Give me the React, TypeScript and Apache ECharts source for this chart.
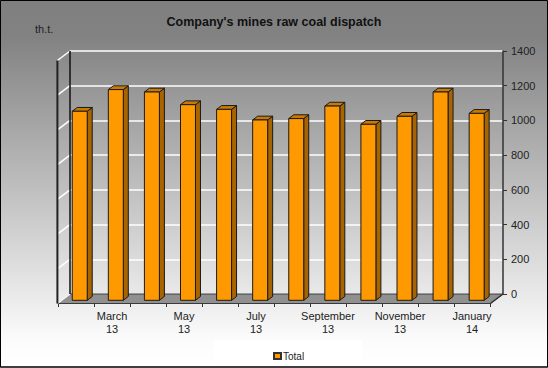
import React, { useEffect, useRef } from "react";
import * as echarts from "echarts";

const categories = [
  "February 13", "March 13", "April 13", "May 13", "June 13", "July 13",
  "August 13", "September 13", "October 13", "November 13", "December 13", "January 14",
];
const totalValues = [1089, 1214, 1200, 1127, 1100, 1039, 1047, 1119, 1014, 1060, 1200, 1077];
const yTickValues = [0, 200, 400, 600, 800, 1000, 1200, 1400];
const seriesName = "Total";
const titleText = "Company's mines raw coal dispatch";
const unitText = "th.t.";

const FONT = "'Liberation Sans', Arial, sans-serif";
// 3D depth offsets (full depth, bar front, bar back)
const DX = -12.6, DY = 9.5;
const DXF = -8.3, DYF = 6.3;
const DXB = -3.3, DYB = 2.5;

export default function App() {
  const ref = useRef<HTMLDivElement>(null);
  useEffect(() => {
    if (!ref.current) return;
    const chart = echarts.init(ref.current, undefined, { renderer: "svg" });
    const barData = totalValues.map((v, i) => [i, v]);
    const option: any = {
      animation: false,
      backgroundColor: {
        type: "linear", x: 0, y: 0, x2: 0, y2: 1,
        colorStops: [
          { offset: 0, color: "#7f7f7f" },
          { offset: 0.1, color: "#828282" },
          { offset: 0.92, color: "#fbfbfb" },
          { offset: 1, color: "#ffffff" },
        ],
      },
      title: {
        text: titleText,
        left: "center",
        top: 10,
        textStyle: { fontFamily: FONT, fontSize: 12.5, fontWeight: "bold", color: "#111" },
      },
      legend: {
        data: [seriesName],
        left: 268,
        top: 346,
        itemWidth: 7,
        itemHeight: 6,
        icon: "rect",
        textStyle: { fontFamily: FONT, fontSize: 10, color: "#222", padding: [0, 0, 0, -3] },
      },
      graphic: [
        { type: "rect", z: -1, shape: { x: 213, y: 340, width: 149, height: 26 }, style: { fill: "#ffffff" } },
        { type: "text", x: 35, y: 23, style: { text: unitText, font: `11px ${FONT}`, fill: "#222" } },
        { type: "rect", z: 100, shape: { x: 0.5, y: 0.5, width: 547, height: 366.5 }, style: { fill: "none", stroke: "#000", lineWidth: 1 } },
        { type: "line", z: 100, shape: { x1: 0, y1: 367, x2: 548, y2: 367 }, style: { stroke: "#000", lineWidth: 1 } },
      ],
      grid: [
        { left: 70, right: 45, top: 51, bottom: 74 },
        { left: 58, width: 432, top: 61, height: 242 },
      ],
      xAxis: [
        { type: "category", gridIndex: 0, data: categories, boundaryGap: true, show: false },
        {
          type: "category", gridIndex: 1, data: categories, boundaryGap: true,
          axisLine: { show: true, lineStyle: { color: "#333", width: 1 } },
          axisTick: { show: true, interval: 0, length: 4, lineStyle: { color: "#333" } },
          axisLabel: {
            interval: (index: number) => index % 2 === 1,
            formatter: (v: string) => v.replace(" ", "\n"),
            fontFamily: FONT, fontSize: 11, color: "#222", lineHeight: 13, margin: 6,
          },
          splitLine: { show: false },
        },
      ],
      yAxis: [
        {
          type: "value", gridIndex: 0, position: "right", min: 0, max: 1400, interval: 200,
          axisLine: { show: true, lineStyle: { color: "#333", width: 1.5 } },
          axisTick: { show: true, length: 4, lineStyle: { color: "#333" } },
          axisLabel: {
            fontFamily: FONT, fontSize: 11, color: "#222", margin: 8,
            formatter: (v: number) => String(v),
          },
          splitLine: { show: true, lineStyle: { color: "#ffffff", width: 1.5 } },
        },
        { type: "value", gridIndex: 1, show: false, min: 0, max: 1400 },
      ],
      series: [
        {
          type: "custom",
          name: "walls",
          xAxisIndex: 0, yAxisIndex: 0,
          data: [[0, 0]],
          silent: true,
          z: 1,
          clip: false,
          renderItem: (params: any, api: any) => {
            const cs = params.coordSys;
            const x = cs.x, y = cs.y, w = cs.width, h = cs.height;
            const children: any[] = [];
            children.push({
              type: "polygon",
              shape: { points: [[x, y + h], [x + w, y + h], [x + w + DX, y + h + DY], [x + DX, y + h + DY]] },
              style: { fill: "#909090", stroke: "#3a3a3a", lineWidth: 1 },
            });
            yTickValues.forEach((t) => {
              const yy = api.coord([0, t])[1];
              children.push({
                type: "line",
                shape: { x1: x, y1: yy, x2: x + DX, y2: yy + DY },
                style: { stroke: "#ffffff", lineWidth: 1.5 },
              });
            });
            children.push({
              type: "line",
              shape: { x1: x + DX, y1: y + DY, x2: x + DX, y2: y + h + DY },
              style: { stroke: "#222", lineWidth: 2 },
            });
            children.push({
              type: "line",
              shape: { x1: x, y1: y, x2: x, y2: y + h },
              style: { stroke: "#111", lineWidth: 1.5 },
            });
            children.push({
              type: "line",
              shape: { x1: x + w, y1: y + h, x2: x + w + DX, y2: y + h + DY },
              style: { stroke: "#333", lineWidth: 1.5 },
            });
            return { type: "group", children };
          },
        },
        {
          type: "custom",
          name: seriesName,
          xAxisIndex: 0, yAxisIndex: 0,
          data: barData,
          z: 3,
          clip: false,
          itemStyle: { color: "#ff9900", borderColor: "#333", borderWidth: 1 },
          encode: { x: 0, y: 1 },
          renderItem: (params: any, api: any) => {
            const i = api.value(0);
            const v = api.value(1);
            const base = api.coord([i, 0]);
            const top = api.coord([i, v]);
            const bw = api.size([1, 0])[0];
            const fw = bw * 0.415;
            const fx = base[0] + DXF - fw / 2;
            const ft = top[1] + DYF;
            const fb = base[1] + DYF;
            const ddx = DXB - DXF, ddy = DYB - DYF;
            const stroke = { stroke: "#1a1a1a", lineWidth: 1, lineJoin: "round" };
            return {
              type: "group",
              children: [
                {
                  type: "polygon",
                  shape: { points: [[fx + fw, ft], [fx + fw + ddx, ft + ddy], [fx + fw + ddx, fb + ddy], [fx + fw, fb]] },
                  style: { fill: "#a86400", ...stroke },
                },
                {
                  type: "polygon",
                  shape: { points: [[fx, ft], [fx + fw, ft], [fx + fw + ddx, ft + ddy], [fx + ddx, ft + ddy]] },
                  style: { fill: "#c97a00", ...stroke },
                },
                {
                  type: "rect",
                  shape: { x: fx, y: ft, width: fw, height: fb - ft },
                  style: { fill: "#ff9900", ...stroke },
                },
              ],
            };
          },
        },
      ],
    };
    chart.setOption(option);
    return () => chart.dispose();
  }, []);
  return (
    <div
      ref={ref}
      style={{ position: "fixed", left: 0, top: 0, width: 548, height: 368 }}
    />
  );
}
